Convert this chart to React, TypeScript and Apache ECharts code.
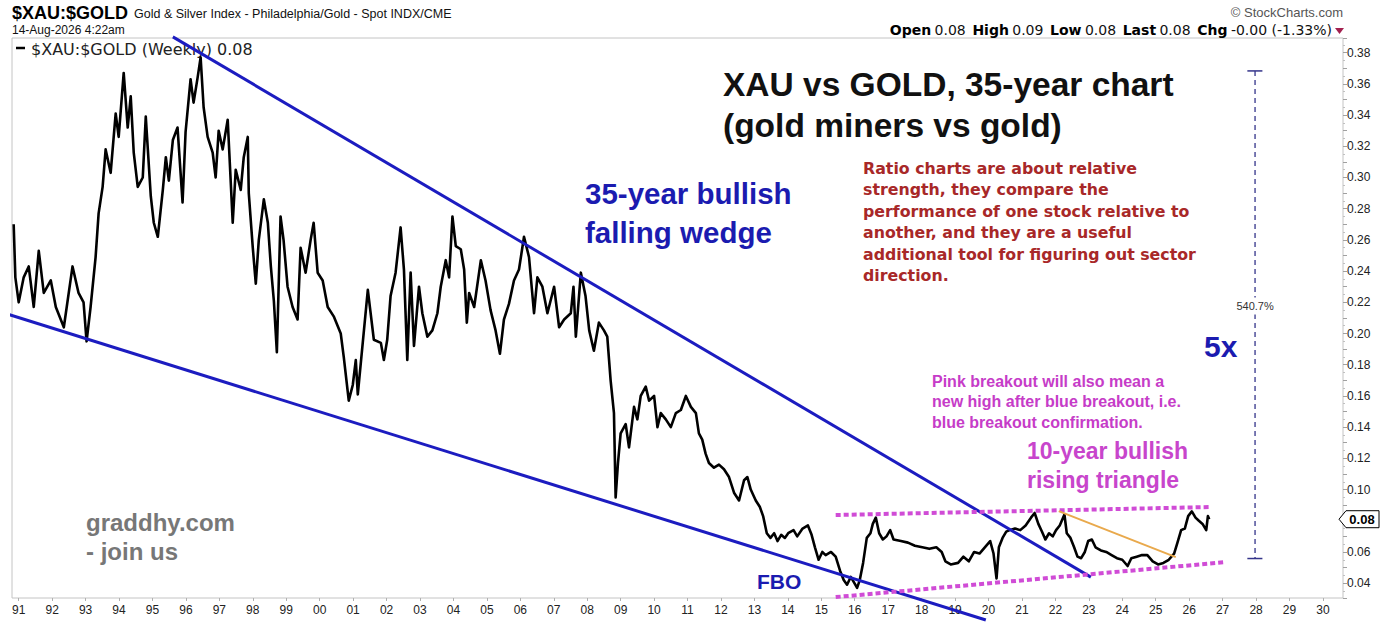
import React, { useEffect, useRef } from "react";
import * as echarts from "echarts";

type Pt = [number, number];

// ---- Weekly $XAU:$GOLD ratio (year, ratio) ----
const ratio1990to2001: Pt[] = [
  [1990.85, 0.27], [1990.9, 0.236], [1991.0, 0.22], [1991.15, 0.236], [1991.3, 0.243], [1991.45, 0.217],
  [1991.6, 0.253], [1991.75, 0.226], [1991.96, 0.234], [1992.11, 0.217], [1992.35, 0.204], [1992.61, 0.243],
  [1992.79, 0.226], [1992.94, 0.22], [1993.03, 0.195], [1993.15, 0.217], [1993.3, 0.249], [1993.39, 0.277],
  [1993.51, 0.294], [1993.6, 0.318], [1993.75, 0.303], [1993.9, 0.341], [1993.99, 0.326], [1994.14, 0.367],
  [1994.26, 0.332], [1994.35, 0.352], [1994.44, 0.316], [1994.56, 0.294], [1994.71, 0.3], [1994.8, 0.339],
  [1994.95, 0.288], [1995.04, 0.271], [1995.16, 0.262], [1995.31, 0.292], [1995.4, 0.313], [1995.49, 0.298],
  [1995.61, 0.324], [1995.75, 0.332], [1995.9, 0.284], [1995.99, 0.329], [1996.14, 0.363], [1996.23, 0.348],
  [1996.35, 0.364], [1996.44, 0.377], [1996.53, 0.345], [1996.65, 0.326], [1996.8, 0.316], [1996.89, 0.3],
  [1996.98, 0.33], [1997.1, 0.318], [1997.25, 0.337], [1997.4, 0.271], [1997.49, 0.305], [1997.64, 0.292],
  [1997.73, 0.313], [1997.85, 0.326], [1997.88, 0.29], [1998.0, 0.255], [1998.09, 0.232], [1998.18, 0.26],
  [1998.33, 0.286], [1998.45, 0.271], [1998.54, 0.243], [1998.63, 0.221], [1998.72, 0.188], [1998.83, 0.275],
  [1998.92, 0.26], [1999.04, 0.23], [1999.19, 0.217], [1999.34, 0.209], [1999.43, 0.255], [1999.58, 0.239],
  [1999.73, 0.26], [1999.82, 0.271], [1999.94, 0.239], [2000.09, 0.234], [2000.24, 0.217], [2000.42, 0.211],
  [2000.63, 0.2], [2000.72, 0.185], [2000.87, 0.157], [2000.99, 0.167], [2001.08, 0.183], [2001.14, 0.161],
  [2001.44, 0.228], [2001.62, 0.196],
];

const ratio2001to2011: Pt[] = [
  [2001.83, 0.194], [2001.92, 0.183], [2002.02, 0.196], [2002.12, 0.224], [2002.27, 0.239], [2002.42, 0.268],
  [2002.52, 0.241], [2002.62, 0.183], [2002.72, 0.239], [2002.82, 0.192], [2002.97, 0.23], [2003.07, 0.213],
  [2003.22, 0.198], [2003.37, 0.202], [2003.52, 0.213], [2003.62, 0.23], [2003.77, 0.247], [2003.87, 0.236],
  [2003.97, 0.275], [2004.07, 0.256], [2004.22, 0.254], [2004.32, 0.241], [2004.4, 0.207], [2004.47, 0.226],
  [2004.62, 0.217], [2004.82, 0.247], [2004.96, 0.234], [2005.11, 0.215], [2005.26, 0.202], [2005.39, 0.187],
  [2005.51, 0.209], [2005.66, 0.219], [2005.81, 0.234], [2005.96, 0.241], [2006.11, 0.262], [2006.26, 0.249],
  [2006.41, 0.213], [2006.51, 0.236], [2006.66, 0.23], [2006.81, 0.213], [2007.01, 0.23], [2007.16, 0.204],
  [2007.31, 0.209], [2007.51, 0.213], [2007.59, 0.23], [2007.66, 0.198], [2007.81, 0.239], [2007.95, 0.224],
  [2008.06, 0.202], [2008.2, 0.189], [2008.35, 0.207], [2008.5, 0.202], [2008.6, 0.198], [2008.7, 0.17],
  [2008.8, 0.149], [2008.85, 0.095], [2008.92, 0.117], [2009.0, 0.136], [2009.15, 0.142], [2009.25, 0.127],
  [2009.4, 0.153], [2009.5, 0.145], [2009.6, 0.16], [2009.75, 0.166], [2009.85, 0.157], [2010.0, 0.16],
  [2010.1, 0.14], [2010.2, 0.149], [2010.35, 0.145], [2010.5, 0.14], [2010.65, 0.149], [2010.8, 0.151],
  [2010.95, 0.16], [2011.1, 0.153],
];

const ratio2011to2026: Pt[] = [
  [2011.25, 0.149], [2011.34, 0.136], [2011.44, 0.132], [2011.54, 0.123], [2011.64, 0.117], [2011.79, 0.114],
  [2011.94, 0.116], [2012.09, 0.113], [2012.24, 0.108], [2012.39, 0.098], [2012.54, 0.093], [2012.69, 0.106],
  [2012.79, 0.108], [2012.89, 0.1], [2013.04, 0.093], [2013.16, 0.089], [2013.26, 0.083], [2013.37, 0.072],
  [2013.48, 0.069], [2013.59, 0.072], [2013.69, 0.067], [2013.8, 0.071], [2013.91, 0.069], [2014.01, 0.072],
  [2014.17, 0.074], [2014.28, 0.07], [2014.44, 0.075], [2014.6, 0.077], [2014.71, 0.071], [2014.81, 0.063],
  [2014.92, 0.055], [2015.03, 0.06], [2015.13, 0.058], [2015.29, 0.06], [2015.43, 0.057], [2015.56, 0.048],
  [2015.67, 0.042], [2015.77, 0.039], [2015.88, 0.044], [2015.99, 0.04], [2016.07, 0.037], [2016.15, 0.042],
  [2016.25, 0.053], [2016.36, 0.069], [2016.47, 0.072], [2016.54, 0.078], [2016.63, 0.082], [2016.73, 0.072],
  [2016.84, 0.068], [2016.95, 0.07], [2017.06, 0.074], [2017.16, 0.068], [2017.38, 0.067], [2017.59, 0.066],
  [2017.8, 0.064], [2018.02, 0.063], [2018.23, 0.062], [2018.44, 0.063], [2018.6, 0.06], [2018.71, 0.054],
  [2018.87, 0.052], [2019.09, 0.053], [2019.25, 0.057], [2019.41, 0.054], [2019.57, 0.06], [2019.73, 0.059],
  [2019.89, 0.063], [2020.05, 0.067], [2020.15, 0.059], [2020.24, 0.043], [2020.31, 0.063], [2020.42, 0.069],
  [2020.53, 0.073], [2020.63, 0.074], [2020.79, 0.075], [2020.95, 0.074], [2021.11, 0.077], [2021.27, 0.082],
  [2021.38, 0.085], [2021.49, 0.078], [2021.6, 0.073], [2021.7, 0.068], [2021.81, 0.072], [2021.92, 0.07],
  [2022.02, 0.074], [2022.13, 0.077], [2022.27, 0.084], [2022.34, 0.072], [2022.45, 0.069], [2022.56, 0.063],
  [2022.66, 0.057], [2022.77, 0.056], [2022.88, 0.06], [2022.98, 0.067], [2023.09, 0.068], [2023.2, 0.063],
  [2023.36, 0.061], [2023.52, 0.06], [2023.68, 0.058], [2023.84, 0.056], [2024.0, 0.055], [2024.16, 0.051],
  [2024.27, 0.056], [2024.43, 0.057], [2024.59, 0.058], [2024.75, 0.058], [2024.91, 0.054], [2025.07, 0.052],
  [2025.23, 0.053], [2025.39, 0.055], [2025.55, 0.059], [2025.65, 0.066], [2025.76, 0.074], [2025.87, 0.075],
  [2025.97, 0.083], [2026.08, 0.086], [2026.19, 0.082], [2026.29, 0.08], [2026.4, 0.078], [2026.51, 0.074],
  [2026.56, 0.083], [2026.6, 0.081],
];

// ---- Drawn trend lines (year, ratio) ----
const upperWedge: Pt[] = [[1995.61, 0.3901], [2023.06, 0.0439]];
const lowerWedge: Pt[] = [[1990.46, 0.2138], [2019.92, 0.0164]];
const triangleTop: Pt[] = [[2015.43, 0.0837], [2026.65, 0.0888]];
const triangleBottom: Pt[] = [[2015.43, 0.0311], [2027.09, 0.0535]];
const orangeLine: Pt[] = [[2022.1, 0.0862], [2025.6, 0.0567]];
const measureLine: Pt[] = [[2027.97, 0.3683], [2027.97, 0.0558]];
const measureTopCap: Pt[] = [[2027.74, 0.3683], [2028.19, 0.3683]];
const measureBottomCap: Pt[] = [[2027.74, 0.0558], [2028.19, 0.0558]];
const measureLabelPoint: Pt = [2027.97, 0.2177];
const measureLabel = "540.7%";

// ---- Axis ----
const xMin = 1990.8;
const xMax = 2030.6;
const yMin = 0.0305;
const yMax = 0.3894;
const yLabelLow = 0.04;
const yLabelHigh = 0.38;

// ---- Texts ----
const symbolTitle = "$XAU:$GOLD";
const symbolDesc = "Gold & Silver Index - Philadelphia/Gold - Spot INDX/CME";
const dateText = "14-Aug-2026 4:22am";
const legendText = "$XAU:$GOLD (Weekly) 0.08";
const copyright = "\u00A9 StockCharts.com";
const quoteText =
  "{b|Open} {n|0.08}  {b|High} {n|0.09}  {b|Low} {n|0.08}  {b|Last} {n|0.08}  {b|Chg} {n|-0.00 (-1.33%)}";
const titleLines = ["XAU vs GOLD, 35-year chart", "(gold miners vs gold)"];
const wedgeLines = ["35-year bullish", "falling wedge"];
const ratioNoteLines = [
  "Ratio charts are about relative",
  "strength, they compare the",
  "performance of one stock relative to",
  "another, and they are a useful",
  "additional tool for figuring out sector",
  "direction.",
];
const pinkNoteLines = [
  "Pink breakout will also mean a",
  "new high after blue breakout, i.e.",
  "blue breakout confirmation.",
];
const triangleLines = ["10-year bullish", "rising triangle"];
const fiveX = "5x";
const fboText = "FBO";
const siteLines = ["graddhy.com", "- join us"];
const lastLabel = "0.08";

const SANS = "'Liberation Sans', Arial, sans-serif";
const VERD = "'DejaVu Sans', Verdana, sans-serif";
const BLUE = "#1c1cc0";
const TXT_BLUE = "#1b1bb0";
const PINK = "#d04cd6";

function seg(data: Pt[], color: string, width: number, type: any, z = 4): any {
  return {
    type: "line",
    data,
    symbol: "none",
    clip: false,
    silent: true,
    z,
    lineStyle: { color, width, type, cap: "butt" },
    animation: false,
  };
}

function textLines(lines: string[], x: number, y0: number, lh: number, style: any): any[] {
  return lines.map((t, i) => ({
    type: "text",
    x,
    y: y0 + i * lh,
    z: 20,
    style: { text: t, verticalAlign: "middle", textVerticalAlign: "middle", ...style },
  }));
}

export default function App() {
  const ref = useRef<HTMLDivElement>(null);

  useEffect(() => {
    if (!ref.current) return;
    const chart = echarts.init(ref.current, undefined, { renderer: "svg" });
    const mainData = [...ratio1990to2001, ...ratio2001to2011, ...ratio2011to2026];
    const lastValue = ratio2011to2026[ratio2011to2026.length - 1][1];

    chart.setOption({
      animation: false,
      backgroundColor: "#ffffff",
      textStyle: { fontFamily: SANS },
      grid: {
        left: 12,
        right: 41,
        top: 38,
        bottom: 24,
        show: true,
        borderColor: "#c4c4c4",
        borderWidth: 1,
        backgroundColor: "#ffffff",
      },
      xAxis: {
        type: "value",
        min: xMin,
        max: xMax,
        splitNumber: 40,
        minInterval: 1,
        maxInterval: 1,
        axisLine: { show: false },
        axisTick: { show: true, length: 3, lineStyle: { color: "#b0b0b0" } },
        splitLine: { show: false },
        axisLabel: {
          color: "#222",
          fontSize: 12,
          margin: 6,
          fontFamily: SANS,
          showMinLabel: false,
          showMaxLabel: false,
          formatter: (v: number) => {
            const r = Math.round(v);
            if (Math.abs(v - r) > 1e-6) return "";
            return String(r % 100).padStart(2, "0");
          },
        },
      },
      yAxis: {
        type: "value",
        position: "right",
        min: yMin,
        max: yMax,
        splitNumber: 36,
        minInterval: 0.01,
        maxInterval: 0.01,
        axisLine: { show: false },
        axisTick: { show: true, length: 4, lineStyle: { color: "#a0a0a0" } },
        minorTick: { show: true, splitNumber: 2, length: 2, lineStyle: { color: "#c0c0c0" } },
        splitLine: { show: false },
        axisLabel: {
          color: "#222",
          fontSize: 12,
          margin: 4,
          fontFamily: SANS,
          formatter: (v: number) => {
            const c = Math.round(v * 100);
            if (Math.abs(v * 100 - c) > 1e-6) return "";
            if (c % 2 !== 0) return "";
            if (v < yLabelLow - 1e-6 || v > yLabelHigh + 1e-6) return "";
            // the last-value tag sits over this label
            if (Math.abs(v - lastValue) < 0.006) return "";
            return v.toFixed(2);
          },
        },
      },
      series: [
        {
          type: "line",
          data: mainData,
          symbol: "none",
          z: 3,
          silent: true,
          lineStyle: { color: "#000", width: 2.6, join: "round" },
        },
        seg(upperWedge, BLUE, 3, "solid", 5),
        seg(lowerWedge, BLUE, 3, "solid", 5),
        seg(triangleTop, PINK, 4, [5, 3], 5),
        seg(triangleBottom, PINK, 4, [5, 3], 5),
        seg(orangeLine, "#e9a94c", 2, "solid", 5),
        {
          ...seg(measureLine, "#34348a", 1.3, [5, 4], 4),
          markPoint: {
            symbol: "circle",
            symbolSize: 1,
            itemStyle: { color: "rgba(0,0,0,0)" },
            label: {
              show: true,
              position: "inside",
              formatter: measureLabel,
              color: "#333",
              fontSize: 11,
              fontFamily: SANS,
              backgroundColor: "#fff",
              padding: [3, 2],
            },
            data: [{ coord: measureLabelPoint }],
          },
        },
        seg(measureTopCap, "#34348a", 1.5, "solid", 4),
        seg(measureBottomCap, "#34348a", 1.5, "solid", 4),
      ],
    });

    const yc = chart.convertToPixel({ yAxisIndex: 0 }, lastValue) as number;

    const graphics: any[] = [
      {
        type: "text", x: 12, y: 13, z: 20,
        style: { text: symbolTitle, fontSize: 18, fontWeight: "bold", fontFamily: SANS, fill: "#000", verticalAlign: "middle", textVerticalAlign: "middle" },
      },
      {
        type: "text", x: 134, y: 14, z: 20,
        style: { text: symbolDesc, fontSize: 12.5, fontFamily: SANS, fill: "#111", verticalAlign: "middle", textVerticalAlign: "middle" },
      },
      {
        type: "text", x: 12, y: 30, z: 20,
        style: { text: dateText, fontSize: 12, fontFamily: SANS, fill: "#111", verticalAlign: "middle", textVerticalAlign: "middle" },
      },
      {
        type: "line", z: 20,
        shape: { x1: 16, y1: 48, x2: 25, y2: 48 },
        style: { stroke: "#000", lineWidth: 2.5 },
      },
      {
        type: "text", x: 31, y: 49, z: 2,
        style: { text: legendText, fontSize: 16, fontFamily: VERD, fill: "#222", verticalAlign: "middle", textVerticalAlign: "middle" },
      },
      {
        type: "text", x: 1343, y: 12, z: 20,
        style: { text: copyright, fontSize: 13, fontFamily: SANS, fill: "#555", align: "right", textAlign: "right", verticalAlign: "middle", textVerticalAlign: "middle" },
      },
      {
        type: "text", x: 1332, y: 30, z: 20,
        style: {
          text: quoteText,
          align: "right", textAlign: "right", verticalAlign: "middle", textVerticalAlign: "middle",
          rich: {
            b: { fontSize: 14, fontWeight: "bold", fontFamily: VERD, fill: "#000", color: "#000" },
            n: { fontSize: 14, fontFamily: VERD, fill: "#111", color: "#111" },
          },
        },
      },
      {
        type: "polygon", z: 20,
        shape: { points: [[1335, 28], [1344, 28], [1339.5, 34]] },
        style: { fill: "#a3204f" },
      },
      ...textLines(titleLines, 723, 84, 41, { fontSize: 33.5, fontWeight: "bold", fontFamily: SANS, fill: "#111" }),
      ...textLines(wedgeLines, 585, 193, 39, { fontSize: 29.5, fontWeight: "bold", fontFamily: SANS, fill: TXT_BLUE }),
      ...textLines(ratioNoteLines, 863, 168, 21.5, { fontSize: 15.8, fontWeight: "bold", fontFamily: VERD, fill: "#a82828" }),
      ...textLines(pinkNoteLines, 932, 381, 20.5, { fontSize: 16, fontWeight: "bold", fontFamily: SANS, fill: "#c63cc8" }),
      ...textLines(triangleLines, 1027, 451, 29, { fontSize: 23, fontWeight: "bold", fontFamily: SANS, fill: "#c845cc" }),
      ...textLines([fiveX], 1204, 346, 30, { fontSize: 30, fontWeight: "bold", fontFamily: SANS, fill: TXT_BLUE }),
      ...textLines([fboText], 757, 581, 22, { fontSize: 21, fontWeight: "bold", fontFamily: SANS, fill: TXT_BLUE }),
      ...textLines(siteLines, 86, 522, 29, { fontSize: 24, fontWeight: "bold", fontFamily: SANS, fill: "#777" }),
      {
        type: "polygon", z: 20,
        shape: { points: [[1339, yc], [1346, yc - 8.5], [1379, yc - 8.5], [1379, yc + 8.5], [1346, yc + 8.5]] },
        style: { fill: "#fff", stroke: "#000", lineWidth: 1 },
      },
      {
        type: "text", x: 1362, y: yc + 0.5, z: 21,
        style: { text: lastLabel, fontSize: 13, fontWeight: "bold", fontFamily: SANS, fill: "#000", align: "center", textAlign: "center", verticalAlign: "middle", textVerticalAlign: "middle" },
      },
    ];

    chart.setOption({ graphic: graphics });

    return () => chart.dispose();
  }, []);

  return (
    <div
      ref={ref}
      style={{ position: "absolute", left: 0, top: 0, width: 1384, height: 622, background: "#fff" }}
    />
  );
}
